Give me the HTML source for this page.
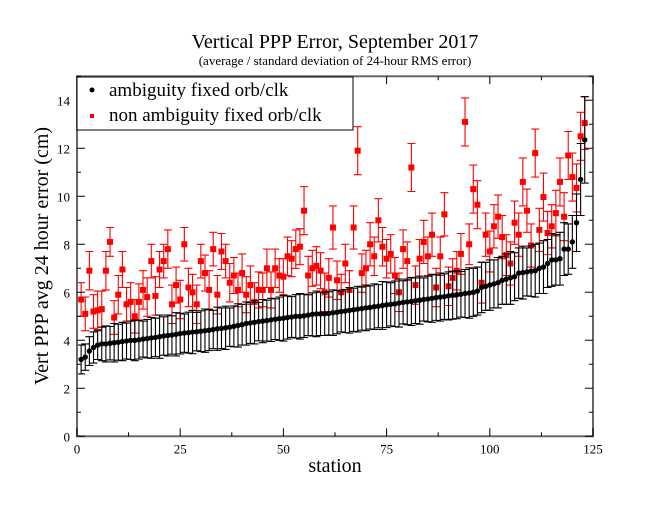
<!DOCTYPE html>
<html><head><meta charset="utf-8"><style>
html,body{margin:0;padding:0;background:#fff;}
svg{display:block;font-family:"Liberation Serif",serif;}
</style></head><body>
<svg id="chart" width="664" height="513" viewBox="0 0 664 513">
<text x="335" y="48" font-size="20" text-anchor="middle">Vertical PPP Error, September 2017</text>
<text x="335" y="65" font-size="13" text-anchor="middle">(average / standard deviation of 24-hour RMS error)</text>
<text transform="translate(48,256) rotate(-90)" font-size="20" text-anchor="middle">Vert PPP avg 24 hour error (cm)</text>
<text x="335" y="472" font-size="20" text-anchor="middle">station</text>
<g id="marks"></g>
<g id="axes"></g>
<g>
<rect x="77" y="77" width="276" height="53" fill="#fff" stroke="#000" stroke-width="1"/>
<circle cx="92" cy="90" r="2.5" fill="#000"/>
<text x="109" y="96" font-size="19">ambiguity fixed orb/clk</text>
<rect x="90" y="114" width="4" height="4" fill="#f00"/>
<text x="109" y="121" font-size="19">non ambiguity fixed orb/clk</text>
</g>
</svg>
<script>
const xTicks = [0,25,50,75,100,125];
const yTicks = [0,2,4,6,8,10,12,14];
const blackVals = [3.2,3.3,3.55,3.7,3.8,3.85,3.85,3.88,3.9,3.92,
3.95,3.97,4.0,4.0,4.02,4.05,4.07,4.1,4.12,4.15,
4.18,4.2,4.22,4.25,4.28,4.3,4.32,4.34,4.36,4.38,
4.4,4.42,4.45,4.48,4.5,4.52,4.55,4.58,4.62,4.65,
4.7,4.72,4.75,4.78,4.8,4.82,4.85,4.88,4.9,4.92,
4.95,4.97,5.0,5.0,5.02,5.05,5.08,5.1,5.1,5.1,5.12,
5.15,5.17,5.2,5.22,5.25,5.27,5.3,5.32,5.35,5.37,
5.4,5.42,5.45,5.48,5.5,5.52,5.55,5.58,5.6,5.62,
5.65,5.67,5.7,5.72,5.75,5.78,5.8,5.82,5.85,5.88,
5.9,5.92,5.95,5.97,6.0,6.05,6.2,6.25,6.3,6.35,
6.4,6.5,6.55,6.6,6.65,6.8,6.82,6.85,6.88,6.9,
7.0,7.05,7.2,7.35,7.35,7.4,7.8,7.8,8.1,8.9,10.7,12.35];
const blackErr = [0.6,0.55,0.6,0.65,0.6,0.7,0.75,0.7,0.8,0.75,
0.8,0.75,0.8,0.85,0.8,0.75,0.8,0.85,0.8,0.9,
0.8,0.85,0.8,0.9,0.85,0.8,0.85,0.9,0.8,0.85,
0.9,0.85,0.8,0.9,0.85,0.9,0.8,0.85,0.9,0.85,
0.9,0.85,0.9,0.8,0.9,0.85,0.9,0.85,0.9,0.95,
0.9,0.85,0.9,0.95,0.9,0.85,0.9,0.95,0.9,0.9,0.9,
0.95,0.9,0.85,0.9,0.95,0.9,0.95,0.9,0.95,0.9,
0.95,0.9,1.0,0.95,0.9,0.95,1.0,0.9,0.95,1.0,
0.95,1.0,0.9,0.95,1.0,0.95,1.0,0.95,1.0,1.0,
1.0,0.95,1.0,1.05,1.0,1.0,1.05,1.0,1.05,1.0,
1.05,1.0,1.05,1.1,1.0,1.05,1.1,1.0,1.05,1.1,
1.05,1.1,1.0,1.1,1.05,1.1,1.1,1.05,1.1,1.2,1.5,1.8];
const redVals = [5.7,5.1,6.9,5.2,5.25,5.3,6.9,8.1,4.95,5.9,
6.95,5.5,5.6,5.0,5.6,6.1,5.8,7.3,5.85,6.95,
7.3,7.8,5.5,6.3,5.7,8.0,6.2,6.0,5.5,7.3,
6.8,6.1,7.8,5.9,7.7,7.3,6.4,6.7,6.1,6.8,
5.9,6.3,5.6,6.1,6.1,7.0,6.1,7.0,6.7,6.65,
7.5,7.4,7.8,7.9,9.4,6.7,7.0,7.1,6.9,6.0,6.6,
8.7,6.5,6.0,7.2,6.1,8.7,11.9,6.8,7.0,8.0,
7.5,9.0,7.9,7.4,7.6,6.7,6.0,7.8,7.3,11.2,
6.3,7.4,8.1,7.5,8.4,6.2,7.5,9.25,6.25,6.6,
6.9,7.6,13.1,8.0,10.3,9.65,6.4,8.4,7.7,8.75,
9.15,8.3,7.55,7.2,8.9,8.4,10.6,9.4,7.95,11.8,
8.6,9.97,8.47,8.75,9.3,10.6,9.15,11.7,10.8,10.35,12.5,13.05];
const redErr = [0.7,0.7,0.8,0.7,0.8,0.75,0.8,0.6,0.7,0.8,
0.75,0.7,0.8,0.7,0.75,0.8,0.8,0.7,0.8,0.75,
0.7,0.8,0.8,0.75,0.8,0.7,0.8,0.75,0.8,0.7,
0.75,0.8,0.7,0.8,0.75,0.7,0.8,0.75,0.7,0.8,
0.75,0.8,0.8,0.75,0.7,0.8,0.75,0.8,0.7,0.75,
0.8,0.75,0.8,0.75,1.0,0.8,0.75,0.8,0.75,0.8,0.8,
0.9,0.8,0.75,0.8,0.8,0.9,1.0,0.8,0.75,0.9,
0.8,0.9,0.8,0.8,0.8,0.75,0.8,0.8,0.8,1.0,
0.8,0.8,0.9,0.8,0.9,0.8,0.8,0.9,0.8,0.8,
0.8,0.85,1.0,0.85,1.0,1.0,0.85,0.9,0.85,0.9,
0.9,0.9,0.85,0.9,0.9,0.9,1.0,0.9,0.9,1.0,
0.9,1.0,0.9,0.9,0.95,1.0,1.0,1.0,1.0,1.0,1.0,1.1];

const X0=77, X1=593, Y0=436.3, Y1=76.3, XMAX=125, YMAX=15;
function sx(v){return X0+(X1-X0)*v/XMAX;}
function sy(v){return Y0-(Y0-Y1)*v/YMAX;}
const NS='http://www.w3.org/2000/svg';
function mk(tag,attrs,parent){const e=document.createElementNS(NS,tag);for(const k in attrs)e.setAttribute(k,attrs[k]);parent.appendChild(e);return e;}
const marks=document.getElementById('marks');
const axes=document.getElementById('axes');

function drawSeries(vals,errs,color,kind,name){
  const g=mk('g',{},marks);
  
  
  vals.forEach((v,i)=>{
    const x=sx(i+1), y=sy(v), yt=sy(v+errs[i]), yb=sy(v-errs[i]);
    const eb=mk('path',{d:`M${x},${yt}V${yb}M${x-4},${yt}H${x+4}M${x-4},${yb}H${x+4}`,stroke:color,'stroke-width':1.1,fill:'none'},g);
    
    
    let m;
    if(kind==='circle'){m=mk('circle',{cx:x,cy:y,r:2.7,fill:color},g);}
    else{m=mk('rect',{x:x-3,y:y-3,width:6,height:6,fill:color},g);}
    
    
  });
}
drawSeries(redVals,redErr,'#f00','square','non-ambiguity');
drawSeries(blackVals,blackErr,'#000','circle','ambiguity');

const fr=mk('rect',{x:X0,y:Y1,width:X1-X0,height:Y0-Y1,fill:'none',stroke:'#666','stroke-width':2},axes);


xTicks.forEach((t,i)=>{
  const x=sx(t);
  const tk=mk('path',{d:`M${x},${Y0}v-8M${x},${Y1}v8`,stroke:'#000','stroke-width':1},axes);
  
  
  const lb=mk('text',{x:x,y:Y0+17,'font-size':13,'text-anchor':'middle'},axes);
  lb.textContent=t;
  
  
  if(i<xTicks.length-1){
    const xm=sx(t+12.5);
    const mt=mk('path',{d:`M${xm},${Y0}v-4M${xm},${Y1}v4`,stroke:'#000','stroke-width':1},axes);
    
    
  }
});
yTicks.forEach(t=>{
  const y=sy(t);
  const tk=mk('path',{d:`M${X0},${y}h8M${X1},${y}h-8`,stroke:'#000','stroke-width':1},axes);
  
  
  const lb=mk('text',{x:X0-7,y:y+5,'font-size':13,'text-anchor':'end'},axes);
  lb.textContent=t;
  
  
  const ym=sy(t+1);
  const mt=mk('path',{d:`M${X0},${ym}h4M${X1},${ym}h-4`,stroke:'#000','stroke-width':1},axes);
  
  
});
</script>
</body></html>
